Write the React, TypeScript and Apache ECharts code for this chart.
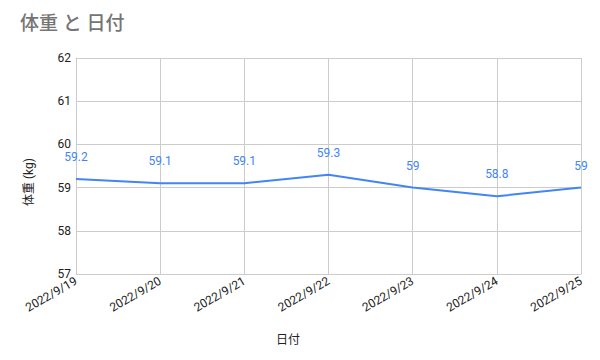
import React, { useEffect, useRef } from "react";
import * as echarts from "echarts";

const dates = ["2022/9/19", "2022/9/20", "2022/9/21", "2022/9/22", "2022/9/23", "2022/9/24", "2022/9/25"];
const weights = [59.2, 59.1, 59.1, 59.3, 59.0, 58.8, 59.0];
const weightLabels = ["59.2", "59.1", "59.1", "59.3", "59", "58.8", "59"];
const titleText = "体重 と 日付";
const xName = "日付";
const yName = "体重 (kg)";

const FONT = "Roboto, 'Noto Sans CJK JP', sans-serif";

export default function App() {
  const ref = useRef<HTMLDivElement>(null);
  useEffect(() => {
    const chart = echarts.init(ref.current!, null, { renderer: "svg" });
    chart.setOption({
      animation: false,
      textStyle: { fontFamily: FONT },
      title: {
        text: titleText,
        left: 20,
        top: 14,
        padding: 0,
        textStyle: { fontSize: 19, fontWeight: 500, color: "#757575", fontFamily: FONT },
      },
      grid: { left: 76, right: 19, top: 58, bottom: 86, containLabel: false },
      xAxis: {
        type: "category",
        data: dates,
        boundaryGap: false,
        axisLine: { lineStyle: { color: "#cccccc" } },
        axisTick: { show: false },
        splitLine: { show: true, lineStyle: { color: "#cccccc" } },
        axisLabel: { rotate: 30, color: "#222222", fontSize: 12, margin: 6, interval: 0 },
      },
      yAxis: {
        type: "value",
        min: 57,
        max: 62,
        interval: 1,
        axisLine: { show: true, lineStyle: { color: "#cccccc" } },
        axisTick: { show: false },
        splitLine: { lineStyle: { color: "#cccccc" } },
        axisLabel: { color: "#222222", fontSize: 12, margin: 5 },
      },
      graphic: [
        {
          type: "text",
          x: 288,
          y: 340,
          style: { text: xName, fontSize: 12, fill: "#222222", fontFamily: FONT, align: "center", verticalAlign: "middle" },
        },
        {
          type: "text",
          x: 29,
          y: 182,
          rotation: Math.PI / 2,
          style: { text: yName, fontSize: 12, fill: "#222222", fontFamily: FONT, align: "center", verticalAlign: "middle" },
        },
      ],
      series: [
        {
          type: "line",
          data: weights,
          showSymbol: true,
          symbol: "circle",
          symbolSize: 0,
          lineStyle: { color: "#4285F4", width: 2 },
          itemStyle: { color: "#4285F4" },
          label: {
            show: true,
            position: "top",
            distance: 16,
            color: "#4285F4",
            fontSize: 12,
            formatter: (p: any) => weightLabels[p.dataIndex],
          },
        },
      ],
    });
    return () => chart.dispose();
  }, []);
  return <div ref={ref} style={{ position: "absolute", left: 0, top: 0, width: 600, height: 360 }} />;
}
